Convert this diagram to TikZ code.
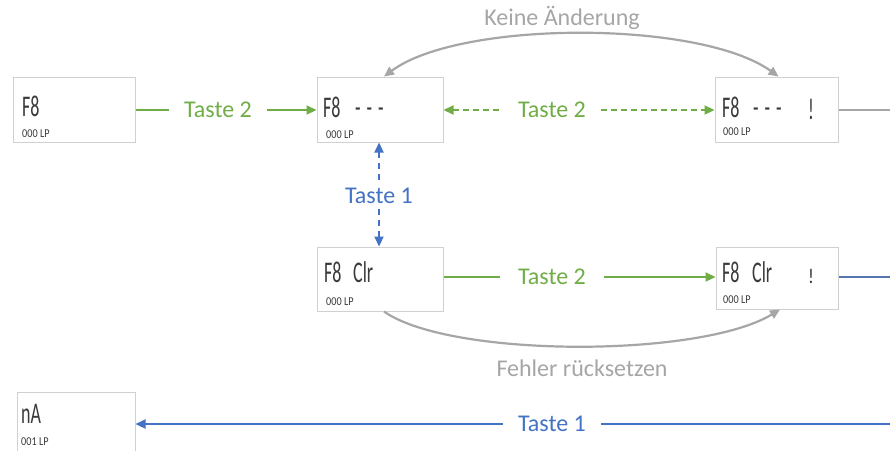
\documentclass[tikz,border=0pt]{standalone}
\usepackage{fontspec}
\setmainfont{Carlito}
\usetikzlibrary{arrows.meta,calc}
\definecolor{grn}{HTML}{70AD47}
\definecolor{blu}{HTML}{4472C4}
\definecolor{gry}{HTML}{A6A6A6}
\definecolor{bxc}{HTML}{D0D0D0}
\definecolor{lcd}{HTML}{3A3A3A}
\tikzset{
  lcdbox/.style={draw=bxc, line width=1pt, rectangle, inner sep=0pt, fill=white},
  big/.style={anchor=base west, inner sep=0pt, text=lcd, font=\fontsize{30}{30}\selectfont},
  small/.style={anchor=base west, inner sep=0pt, text=lcd, font=\fontsize{12}{12}\selectfont},
  lbl/.style={font=\fontsize{24}{24}\selectfont, inner ysep=0pt, inner xsep=15pt},
  glbl/.style={lbl, text=grn},
  blbl/.style={lbl, text=blu},
  grlbl/.style={lbl, text=gry},
  tp/.tip={Triangle[length=10pt,width=9pt]},
  gline/.style={draw=grn, line width=2.2pt},
  gdash/.style={gline, dash pattern=on 6pt off 4pt},
  bline/.style={draw=blu, line width=2.2pt},
  bdash/.style={bline, dash pattern=on 6pt off 5pt},
  garc/.style={draw=gry, line width=2.2pt},
}
\newcommand{\lcdtxt}[1]{\scalebox{0.6}[1]{#1}}
\newcommand{\lcdsm}[1]{\scalebox{0.85}[1]{#1}}
\begin{document}
\begin{tikzpicture}[x=1pt,y=-1pt]
\clip (0,0) rectangle (890,450);
\fill[white] (0,0) rectangle (890,450);
% boxes
\node[lcdbox, minimum width=122pt, minimum height=65pt] (A) at (74,109.5) {};
\node[lcdbox, minimum width=126pt, minimum height=65pt] (B) at (380,109.5) {};
\node[lcdbox, minimum width=123pt, minimum height=65pt] (C) at (776.5,109.5) {};
\node[lcdbox, minimum width=126pt, minimum height=64pt] (D) at (380,279) {};
\node[lcdbox, minimum width=122pt, minimum height=62pt] (E) at (777,278) {};
\node[lcdbox, minimum width=118pt, minimum height=76pt] (F) at (76,430) {};
% box texts
\node[big] (A1) at (22,116) {\lcdtxt{F8}};
\node[small] (A2) at (22,137) {\lcdsm{000 LP}};
\node[big] (B1) at (323,117) {\lcdtxt{F8}};
\node[big] (B2) at (355,117) {\lcdtxt{-\,\,-\,\,-}};
\node[small] (B3) at (326,138) {\lcdsm{000 LP}};
\node[big] (C1) at (722,117) {\lcdtxt{F8}};
\node[big] (C2) at (753,117) {\lcdtxt{-\,\,-\,\,-}};
\node[big] (C3) at (808,119) {\lcdtxt{!}};
\node[small] (C4) at (723,135) {\lcdsm{000 LP}};
\node[big] (D1) at (324,282) {\lcdtxt{F8}};
\node[big] (D2) at (353,282) {\lcdtxt{Clr}};
\node[small] (D3) at (326,305) {\lcdsm{000 LP}};
\node[big] (E1) at (722,282) {\lcdtxt{F8}};
\node[big] (E2) at (752,282) {\lcdtxt{Clr}};
\node[big] (E3) at (808,283) {\scalebox{0.6}[0.7]{!}};
\node[small] (E4) at (723,303) {\lcdsm{000 LP}};
\node[big] (F1) at (21,423) {\lcdtxt{nA}};
\node[small] (F2) at (21,445) {\lcdsm{001 LP}};
% labels
\node[glbl] (LA) at (218,110) {Taste 2};
\node[glbl] (LBC) at (552,110) {Taste 2};
\node[glbl, inner xsep=18pt] (LDE) at (552,277) {Taste 2};
\node[blbl, inner xsep=0pt, inner ysep=5pt] (LV) at (379,196) {Taste 1};
\node[blbl] (LB) at (552,424) {Taste 1};
\node[grlbl] (LK) at (562,18) {Keine Änderung};
\node[grlbl] (LF) at (582,368) {Fehler rücksetzen};
% free ends
\coordinate (RC) at (890,110);
\coordinate (RE) at (890,277);
\coordinate (RB) at (890,424);
% connectors
\draw[gline] (LA.west -| A.east) -- (LA.west);
\draw[gline, -{tp}] (LA.east) -- (LA.east -| B.west);
\draw[gdash, {tp}-] (LBC.west -| B.east) -- (LBC.west);
\draw[gdash, -{tp}] (LBC.east) -- (LBC.east -| C.west);
\draw[gline] (LDE.west -| D.east) -- (LDE.west);
\draw[gline, -{tp}] (LDE.east) -- (LDE.east -| E.west);
\draw[bdash, {tp}-] (LV.north |- B.south) -- (LV.north);
\draw[bdash, -{tp}] (LV.south) -- (LV.south |- D.north);
\draw[bline, -{tp}] (LB.west) -- (LB.west -| F.east);
\draw[bline] (RB) -- (LB.east);
\draw[draw=gry, line width=1.2pt] (RC -| C.east) -- (RC);
\draw[draw=blu!70!gray, line width=1.2pt] (RE -| E.east) -- (RE);
\draw[garc, {tp}-{tp}] ([xshift=4pt]B.north) .. controls (460,20) and (700,20) .. ([xshift=2pt]C.north);
\draw[garc, -{tp}] ([xshift=4pt]D.south) .. controls (450,358) and (700,358) .. ([xshift=3pt]E.south);
\end{tikzpicture}
\end{document}
